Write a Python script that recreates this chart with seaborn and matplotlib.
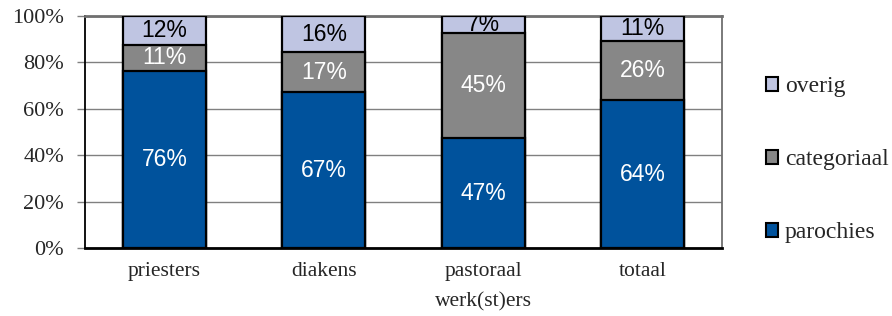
import pandas as pd
import matplotlib.pyplot as plt
import seaborn as sns
from matplotlib.patches import Patch

# data (percent per group)
categories = ['priesters', 'diakens', 'pastoraal\nwerk(st)ers', 'totaal']
parochies = [76.4, 67.1, 47.4, 63.6]
categoriaal = [11.2, 17.3, 45.2, 25.6]
overig = [12.4, 15.6, 7.4, 10.8]

series = ['parochies', 'categoriaal', 'overig']
colors = {'parochies': '#00529C', 'categoriaal': '#878787', 'overig': '#BFC5E2'}
text_colors = {'parochies': 'white', 'categoriaal': 'white', 'overig': 'black'}

df = pd.DataFrame({'cat': categories, 'parochies': parochies,
                   'categoriaal': categoriaal, 'overig': overig})
# cumulative tops for stacking
df['top_parochies'] = df['parochies']
df['top_categoriaal'] = df['parochies'] + df['categoriaal']
df['top_overig'] = df['top_categoriaal'] + df['overig']

sns.set_style('white')
plt.rcParams['font.family'] = ['Liberation Serif', 'DejaVu Serif']

fig = plt.figure(figsize=(8.92, 3.16), dpi=100)
ax = fig.add_axes([85 / 892, 68 / 316, 637 / 892, 232 / 316])

# draw from the top series down so lower segments sit over the taller bars
for s in ['overig', 'categoriaal', 'parochies']:
    sns.barplot(data=df, x='cat', y='top_' + s, color=colors[s], saturation=1,
                edgecolor='black', linewidth=1.6, width=0.52, errorbar=None,
                ax=ax, zorder=3)

# segment labels
for i in range(len(categories)):
    bottom = 0
    for s in series:
        v = df.loc[i, s]
        ax.text(i, bottom + v / 2, f"{v:.0f}%", ha='center', va='center',
                color=text_colors[s], fontsize=16.5, family='Liberation Sans',
                zorder=5, clip_on=True)
        bottom += v

ax.set_ylim(0, 100)
ax.set_yticks([0, 20, 40, 60, 80, 100])
ax.set_yticklabels([f"{t}%" for t in range(0, 101, 20)])
ax.set_xlabel('')
ax.set_ylabel('')
ax.yaxis.grid(True, color='#808080', linewidth=1.0, zorder=0)
ax.set_axisbelow(True)
ax.tick_params(axis='y', which='both', left=True, length=6, width=1.0,
               color='#808080', pad=9, labelsize=16)
ax.tick_params(axis='x', length=0, pad=10, labelsize=15.5)
for lab in ax.get_xticklabels():
    lab.set_linespacing(1.8)

ax.spines['left'].set_color('black')
ax.spines['left'].set_linewidth(1.3)
ax.spines['bottom'].set_color('black')
ax.spines['bottom'].set_linewidth(2.0)
ax.spines['top'].set_color('#707070')
ax.spines['top'].set_linewidth(2.0)
ax.spines['right'].set_color('#707070')
ax.spines['right'].set_linewidth(1.3)

handles = [Patch(facecolor=colors[s], edgecolor='black', linewidth=1.5, label=s)
           for s in ['overig', 'categoriaal', 'parochies']]
fig.legend(handles=handles, loc='center left', bbox_to_anchor=(766 / 892, 0.494),
           frameon=False, fontsize=17, handlelength=0.5, handleheight=0.5,
           handletextpad=0.3, labelspacing=2.2, borderpad=0, borderaxespad=0)

fig.savefig('out.png', dpi=100)
